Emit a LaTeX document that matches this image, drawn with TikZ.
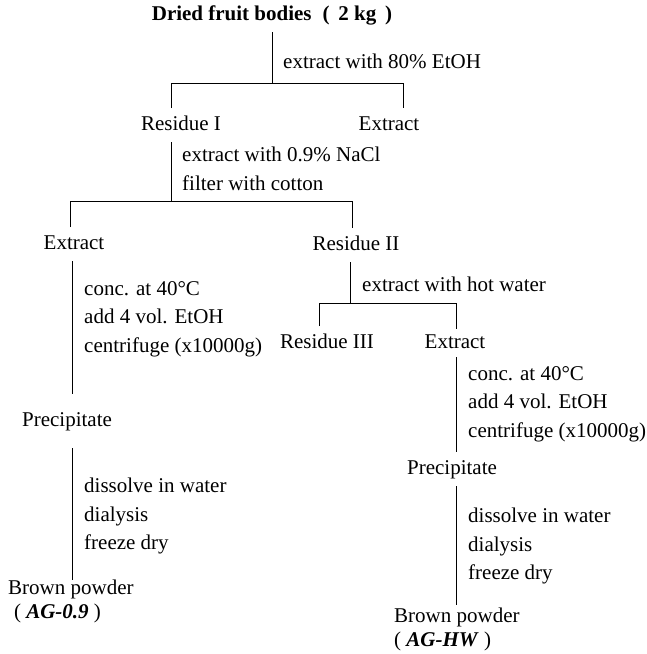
\documentclass[tikz,border=0pt]{standalone}
\usepackage{fontspec}
\setmainfont{Liberation Serif}
\usetikzlibrary{positioning}

\begin{document}
\begin{tikzpicture}[x=1pt, y=-1pt,
        item/.style={inner sep=0pt, text height=14pt, text depth=4pt, outer ysep=8pt,
                font=\fontsize{21}{28}\selectfont},
        powder/.style={inner sep=0pt, outer ysep=0pt, align=left, anchor=north west,
                font=\fontsize{21}{24}\selectfont},
        note/.style={anchor=west, inner sep=0pt, align=left,
                font=\fontsize{21}{28.5}\selectfont}]
        \useasboundingbox (0,0) rectangle (646,654);

        % products
        \node[item, font=\bfseries\fontsize{21}{28}\selectfont] (dried) at (272,15) {Dried fruit bodies \;(\, 2 kg \,)};
        \node[item] (res1) at (181,125) {Residue I};
        \node[item] (ext1) at (389,125) {Extract};
        \node[item] (ext2) at (74,244) {Extract};
        \node[item] (res2) at (356,245) {Residue II};
        \node[item] (res3) at (327,343) {Residue III};
        \node[item, outer ysep=5pt] (ext3) at (455,343) {Extract};
        \node[item, outer ysep=18pt] (prec1) at (67,421) {Precipitate};
        \node[item] (prec2) at (452,469) {Precipitate};
        \node[powder] (pow1) at (8,580) {Brown powder\\ \;( \textbf{\textit{AG-0.9}} )};
        \node[powder, outer ysep=3pt] (pow2) at (394,605) {Brown powder\\ ( \textbf{\textit{AG-HW}} )};

        % branch points
        \coordinate (s1) at (272,83);
        \coordinate (s1l) at (171,83);
        \coordinate (s1r) at (403,83);
        \coordinate (s2) at (171,201);
        \coordinate (s2l) at (70,201);
        \coordinate (s2r) at (352,201);
        \coordinate (s3) at (350,303);
        \coordinate (s3l) at (319,303);
        \coordinate (s3r) at (456,303);
        \coordinate (c1) at (72,0);
        \coordinate (c2) at (456,0);

        \draw (dried.south -| s1) -- (s1);
        \draw (s1l |- res1.north) -- (s1l) -- (s1r) -- (s1r |- ext1.north);
        \draw (res1.south -| s2) -- (s2);
        \draw (s2l |- ext2.north) -- (s2l) -- (s2r) -- (s2r |- res2.north);
        \draw (res2.south -| s3) -- (s3);
        \draw (s3l |- res3.north) -- (s3l) -- (s3r) -- (s3r |- ext3.north);
        \draw (ext2.south -| c1) -- (c1 |- prec1.north);
        \draw (prec1.south -| c1) -- (c1 |- pow1.north);
        \draw (ext3.south -| c2) -- (c2 |- prec2.north);
        \draw (prec2.south -| c2) -- (c2 |- pow2.north);

        % steps
        \node[note] (st1) at (283,61) {extract with 80\% EtOH};
        \node[note] (st2) at (182,169) {extract with 0.9\% NaCl\\filter with cotton};
        \node[note] (st3) at (84,319) {conc. at 40\textdegree C\\add 4 vol. EtOH\\centrifuge (x10000g)};
        \node[note] (st4) at (84,516) {dissolve in water\\dialysis\\freeze dry};
        \node[note] (st5) at (362,284) {extract with hot water};
        \node[note] (st6) at (468,404) {conc. at 40\textdegree C\\add 4 vol. EtOH\\centrifuge (x10000g)};
        \node[note] (st7) at (468,546) {dissolve in water\\dialysis\\freeze dry};
    \end{tikzpicture}
\end{document}
